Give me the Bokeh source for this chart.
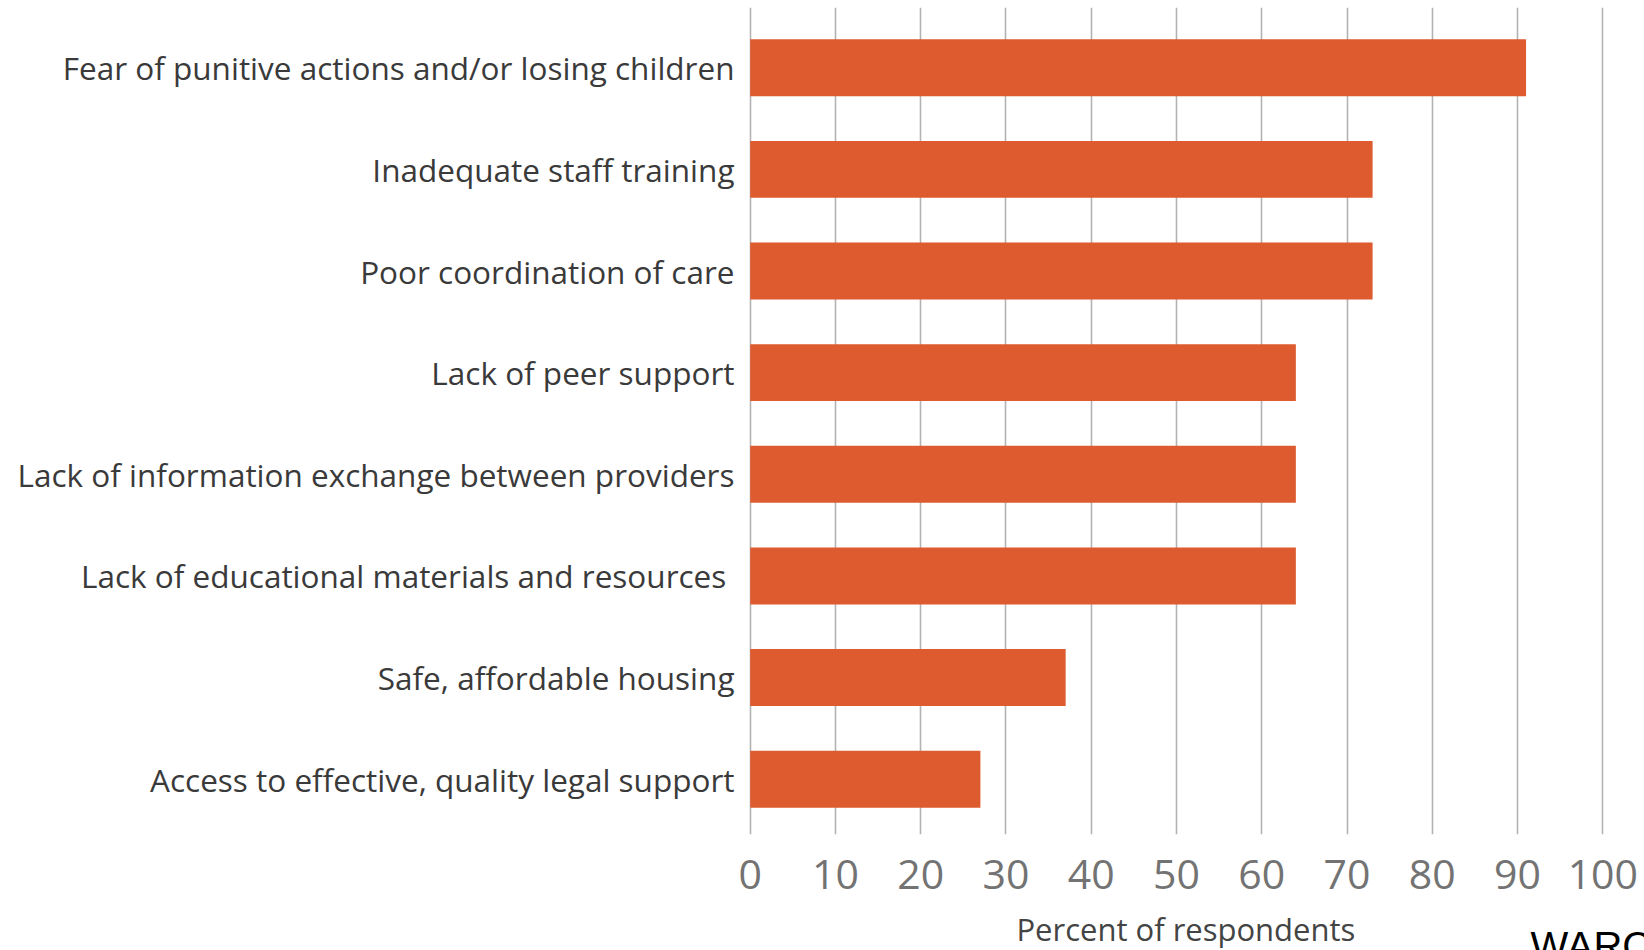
from bokeh.plotting import figure
from bokeh.models import Range1d, FixedTicker, LinearAxis, ColumnDataSource
from bokeh.layouts import column
from bokeh.embed import file_html
from bokeh.resources import INLINE

categories = [
    "Fear of punitive actions and/or losing children",
    "Inadequate staff training",
    "Poor coordination of care",
    "Lack of peer support",
    "Lack of information exchange between providers",
    "Lack of educational materials and resources ",
    "Safe, affordable housing",
    "Access to effective, quality legal support",
]
values = [91, 73, 73, 64, 64, 64, 37, 27]
x_ticks = [0, 10, 20, 30, 40, 50, 60, 70, 80, 90, 100]
x_title = "Percent of respondents"
corner_text = "WARC"
positions = list(range(len(categories)))

FONT = "Open Sans"
BAR = "#DD5B2F"

src = ColumnDataSource(dict(pos=positions, val=values, cat=categories))

# the canvas is a little larger than the window; the wrapping column clips it to 1644x950
p = figure(
    width=1700, height=974,
    x_range=Range1d(-0.2, 100.2),
    y_range=Range1d(7.544, -0.5925),
    output_backend="svg", toolbar_location=None,
    min_border_left=748, min_border_right=96,
    min_border_top=7, min_border_bottom=140,
    height_policy="fixed", width_policy="fixed",
)
p.extra_x_ranges = {"corner": Range1d(0, 110)}
p.outline_line_color = None
p.background_fill_color = "white"
p.border_fill_color = "white"

p.hbar(y="pos", left=0, right="val", height=0.56, source=src,
       fill_color=BAR, line_color=None)

# y axis
yax = p.yaxis[0]
yax.ticker = FixedTicker(ticks=positions)
yax.major_label_overrides = {i: c for i, c in enumerate(categories)}
yax.axis_line_color = None
yax.major_tick_line_color = None
yax.minor_tick_line_color = None
yax.major_tick_in = 0
yax.major_tick_out = 0
yax.major_label_standoff = 14
yax.major_label_text_font = FONT
yax.major_label_text_font_size = "31.5px"
yax.major_label_text_color = "#3a3a3a"

# x axis (ticks)
xax = p.xaxis[0]
xax.ticker = FixedTicker(ticks=x_ticks)
xax.axis_line_color = None
xax.major_tick_line_color = None
xax.minor_tick_line_color = None
xax.major_tick_in = 0
xax.major_tick_out = 0
xax.major_label_standoff = 25
xax.major_label_text_font = FONT
xax.major_label_text_font_size = "41px"
xax.major_label_text_color = "#737373"


def label_axis(text, at, font, size, color, standoff, range_name="default"):
    return LinearAxis(
        x_range_name=range_name,
        ticker=FixedTicker(ticks=[at]),
        major_label_overrides={at: text},
        axis_line_color=None, major_tick_line_color=None, minor_tick_line_color=None,
        major_tick_in=0, major_tick_out=0, major_label_standoff=standoff,
        major_label_text_font=font, major_label_text_font_size=size,
        major_label_text_color=color,
    )


# axis title, as the single label of a label-only axis
p.add_layout(label_axis(x_title, 51.1, FONT, "31px", "#444444", 16), "below")
# partially visible text in the bottom-right corner
p.add_layout(label_axis(corner_text, 108.25, "Liberation Sans", "40px", "black", -29,
                        "corner"), "below")

# grids
p.ygrid.grid_line_color = None
p.xgrid.ticker = FixedTicker(ticks=x_ticks)
p.xgrid.grid_line_color = "#b3b3b3"
p.xgrid.grid_line_width = 1.6

page = column(p, width=1644, height=950, width_policy="fixed", height_policy="fixed",
              styles={"overflow": "hidden"})

open("out.html", "w").write(file_html(page, INLINE))
